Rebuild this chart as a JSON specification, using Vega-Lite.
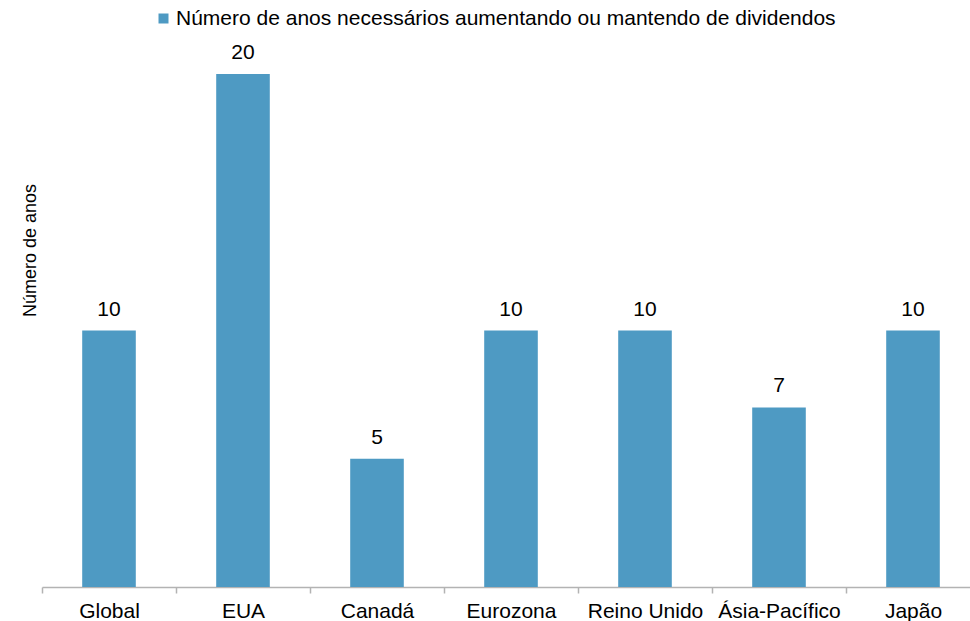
{
  "$schema": "https://vega.github.io/schema/vega-lite/v6.json",
  "width": 938,
  "height": 513,
  "autosize": {"type": "none"},
  "padding": {"left": 42, "top": 74, "right": 0, "bottom": 34},
  "background": "white",
  "config": {"view": {"stroke": null}, "font": "Liberation Sans"},
  "data": {
    "values": [
      {"regiao": "Global", "anos": 10, "serie": "Número de anos necessários aumentando ou mantendo de dividendos"},
      {"regiao": "EUA", "anos": 20, "serie": "Número de anos necessários aumentando ou mantendo de dividendos"},
      {"regiao": "Canadá", "anos": 5, "serie": "Número de anos necessários aumentando ou mantendo de dividendos"},
      {"regiao": "Eurozona", "anos": 10, "serie": "Número de anos necessários aumentando ou mantendo de dividendos"},
      {"regiao": "Reino Unido", "anos": 10, "serie": "Número de anos necessários aumentando ou mantendo de dividendos"},
      {"regiao": "Ásia-Pacífico", "anos": 7, "serie": "Número de anos necessários aumentando ou mantendo de dividendos"},
      {"regiao": "Japão", "anos": 10, "serie": "Número de anos necessários aumentando ou mantendo de dividendos"}
    ]
  },
  "encoding": {
    "x": {
      "field": "regiao",
      "type": "nominal",
      "sort": null,
      "scale": {"paddingInner": 0, "paddingOuter": 0},
      "axis": {
        "title": null,
        "labelAngle": 0,
        "labelFontSize": 21,
        "labelColor": "#000000",
        "labelPadding": 7,
        "domainColor": "#b3b3b3",
        "domainWidth": 1.5,
        "tickColor": "#b3b3b3",
        "tickWidth": 1.5,
        "tickSize": 6,
        "tickBand": "extent",
        "grid": false
      }
    },
    "y": {
      "field": "anos",
      "type": "quantitative",
      "scale": {"domain": [0, 20], "nice": false},
      "axis": {
        "title": "Número de anos",
        "titleFontSize": 18,
        "titleFontWeight": "normal",
        "titleColor": "#000000",
        "titleAngle": -90,
        "titleX": -7,
        "titleY": 176,
        "titleAlign": "center",
        "titleBaseline": "alphabetic",
        "domain": false,
        "ticks": false,
        "labels": false,
        "grid": false
      }
    }
  },
  "layer": [
    {
      "mark": {"type": "bar", "width": {"band": 0.4}},
      "encoding": {
        "color": {
          "field": "serie",
          "type": "nominal",
          "scale": {"range": ["#4E9AC3"]},
          "legend": {
            "title": null,
            "orient": "none",
            "legendX": 111,
            "legendY": -66,
            "padding": 0,
            "symbolType": "square",
            "symbolSize": 100,
            "symbolStrokeWidth": 0,
            "labelFontSize": 21,
            "labelColor": "#000000",
            "labelOffset": 2,
            "labelLimit": 1000
          }
        }
      }
    },
    {
      "mark": {"type": "text", "dy": -15, "baseline": "alphabetic", "fontSize": 21, "color": "#000000"},
      "encoding": {"text": {"field": "anos", "type": "quantitative"}}
    }
  ]
}
